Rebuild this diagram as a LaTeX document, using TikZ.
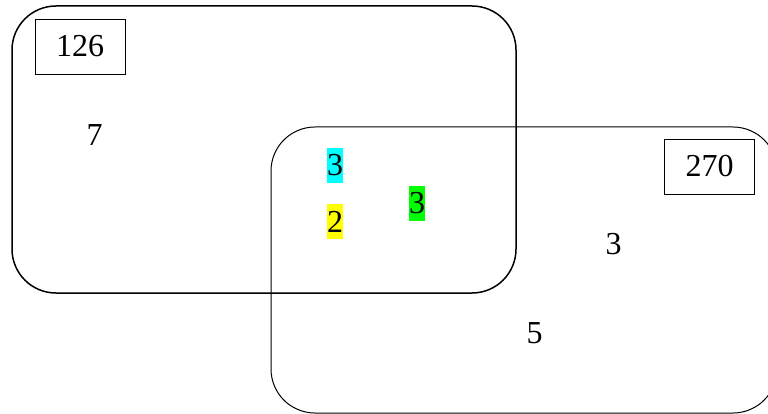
\documentclass[tikz,border=0pt]{standalone}
\usepackage{fontspec}
\setmainfont{Liberation Serif}
\definecolor{hlcyan}{RGB}{0,255,255}
\definecolor{hlyellow}{RGB}{255,255,0}
\definecolor{hlgreen}{RGB}{0,255,0}
\begin{document}
\begin{tikzpicture}[x=1pt,y=-1pt,
  setbox/.style={draw=black, rounded corners=44pt},
  lbl/.style={inner sep=0pt, font=\fontsize{32}{36}\selectfont},
  tagbox/.style={draw=black, line width=0.9pt, minimum width=90pt, minimum height=55pt, inner sep=0pt, font=\fontsize{32}{36}\selectfont},
  hl/.style={inner sep=0pt, minimum width=16pt, minimum height=35pt, font=\fontsize{32}{36}\selectfont}]
\useasboundingbox (0,0) rectangle (768,414);
\clip (0,0) rectangle (768,414);
\draw[setbox, line width=1.5pt] (12,6) rectangle (516,293);
\draw[setbox, line width=1pt] (271,127) rectangle (777,413);
\node[tagbox] (t126) at (80,46.5) {126};
\node[tagbox] (t270) at (709.5,166.5) {270};
\node[lbl] (a) at (94.5,135.5) {7};
\node[lbl] (b) at (613.5,244.5) {3};
\node[lbl] (c) at (534.5,333) {5};
\node[hl, fill=hlcyan] (d) at (335,165.5) {3};
\node[hl, fill=hlyellow] (e) at (335,221.5) {2};
\node[hl, fill=hlgreen] (f) at (417,203.5) {3};
\end{tikzpicture}
\end{document}
